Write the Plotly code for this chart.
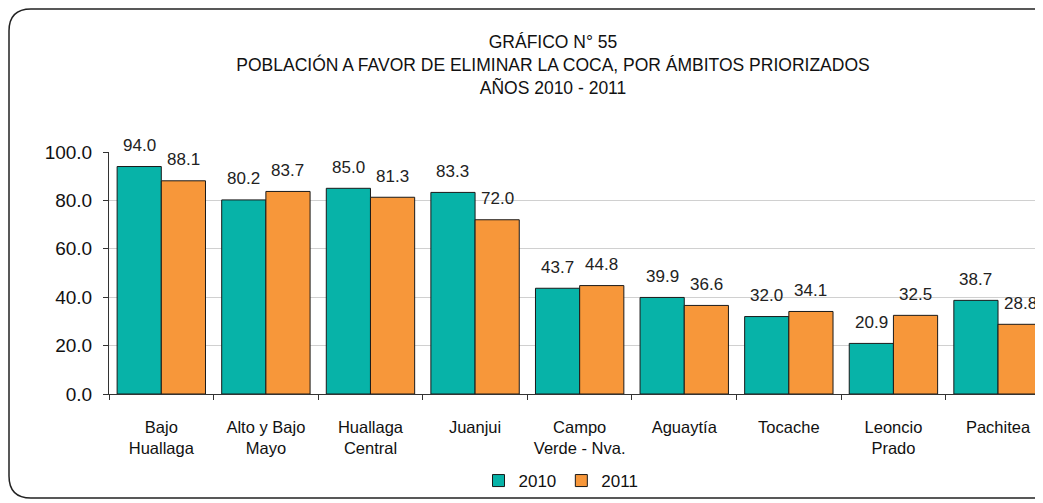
import plotly.graph_objects as go

# Data
categories = ["Bajo<br>Huallaga", "Alto y Bajo<br>Mayo", "Huallaga<br>Central", "Juanjui",
              "Campo<br>Verde - Nva.", "Aguaytía", "Tocache", "Leoncio<br>Prado", "Pachitea"]
values_2010 = [94.0, 80.2, 85.0, 83.3, 43.7, 39.9, 32.0, 20.9, 38.7]
values_2011 = [88.1, 83.7, 81.3, 72.0, 44.8, 36.6, 34.1, 32.5, 28.8]
y_ticks = [0, 20, 40, 60, 80, 100]

# page body has an 8px margin, so figure is a bit smaller than the window
W, H = 1035, 495
ML, MR, MT, MB = 101, 0, 144, 109
pw, ph = W - ML - MR, H - MT - MB


def px2paper(x, y):
    return (x - ML) / pw, (H - MB - y) / ph


fig = go.Figure()
fig.add_trace(go.Bar(
    x=categories, y=values_2010, name="2010", offsetgroup="a",
    marker=dict(color="#07B3A8", line=dict(color="#1a1a1a", width=1)),
))
fig.add_trace(go.Bar(
    x=categories, y=values_2011, name="2011", offsetgroup="b",
    marker=dict(color="#F7973A", line=dict(color="#1a1a1a", width=1)),
))

# value labels, placed like the Excel ones (a bit above the bar)
bw = (1 - 0.155) / 2
for i, (a, b) in enumerate(zip(values_2010, values_2011)):
    for v, dx in ((a, -bw / 2), (b, bw / 2)):
        fig.add_annotation(x=i + dx, y=v, text=f"{v:.1f}", showarrow=False,
                           yanchor="middle", yshift=21,
                           font=dict(size=17, color="#222222"))

# rounded frame around the chart
x0, y0 = px2paper(1, 1)
x1, y1 = px2paper(1060, 490)
rx = 22 / pw
ry = 22 / ph
path = (f"M {x0 + rx},{y0} L {x1},{y0} L {x1},{y1} L {x0 + rx},{y1} "
        f"Q {x0},{y1} {x0},{y1 + ry} L {x0},{y0 - ry} Q {x0},{y0} {x0 + rx},{y0} Z")
fig.add_shape(type="path", path=path, xref="paper", yref="paper",
              line=dict(color="#222222", width=1.5), layer="below")

fig.update_layout(
    width=W, height=H,
    margin=dict(l=ML, r=MR, t=MT, b=MB),
    paper_bgcolor="white", plot_bgcolor="white",
    font=dict(family="Liberation Sans, Arial", color="#111111"),
    title=dict(
        text="GRÁFICO N° 55<br>POBLACIÓN A FAVOR DE ELIMINAR LA COCA, POR ÁMBITOS PRIORIZADOS<br>AÑOS 2010 - 2011",
        x=545 / W, xanchor="center", y=1 - 40 / H, yanchor="top",
        font=dict(family="Liberation Sans, Arial", size=17.5, color="#111111"),
    ),
    bargap=0.155, bargroupgap=0,
    showlegend=True,
    legend=dict(orientation="h", x=px2paper(553, 0)[0], xanchor="center",
                y=px2paper(0, 473)[1], yanchor="middle",
                font=dict(size=17, color="#111111"), itemwidth=30,
                bgcolor="rgba(0,0,0,0)"),
    xaxis=dict(
        range=[-0.5, 8.43], showline=True, linecolor="#333333", linewidth=1,
        ticks="outside", tickson="boundaries", ticklen=5, tickcolor="#333333",
        tickfont=dict(size=16.5, color="#111111"), ticklabelstandoff=18,
        showgrid=False,
    ),
    yaxis=dict(
        range=[0, 100], tickvals=y_ticks, tickformat=".1f",
        showline=True, linecolor="#333333", linewidth=1,
        ticks="outside", ticklen=5, tickcolor="#333333",
        tickfont=dict(size=19, color="#111111"), ticklabelstandoff=7,
        showgrid=True, gridcolor="#D0D0D0", gridwidth=1, zeroline=False,
    ),
)

fig.write_html("out.html")
